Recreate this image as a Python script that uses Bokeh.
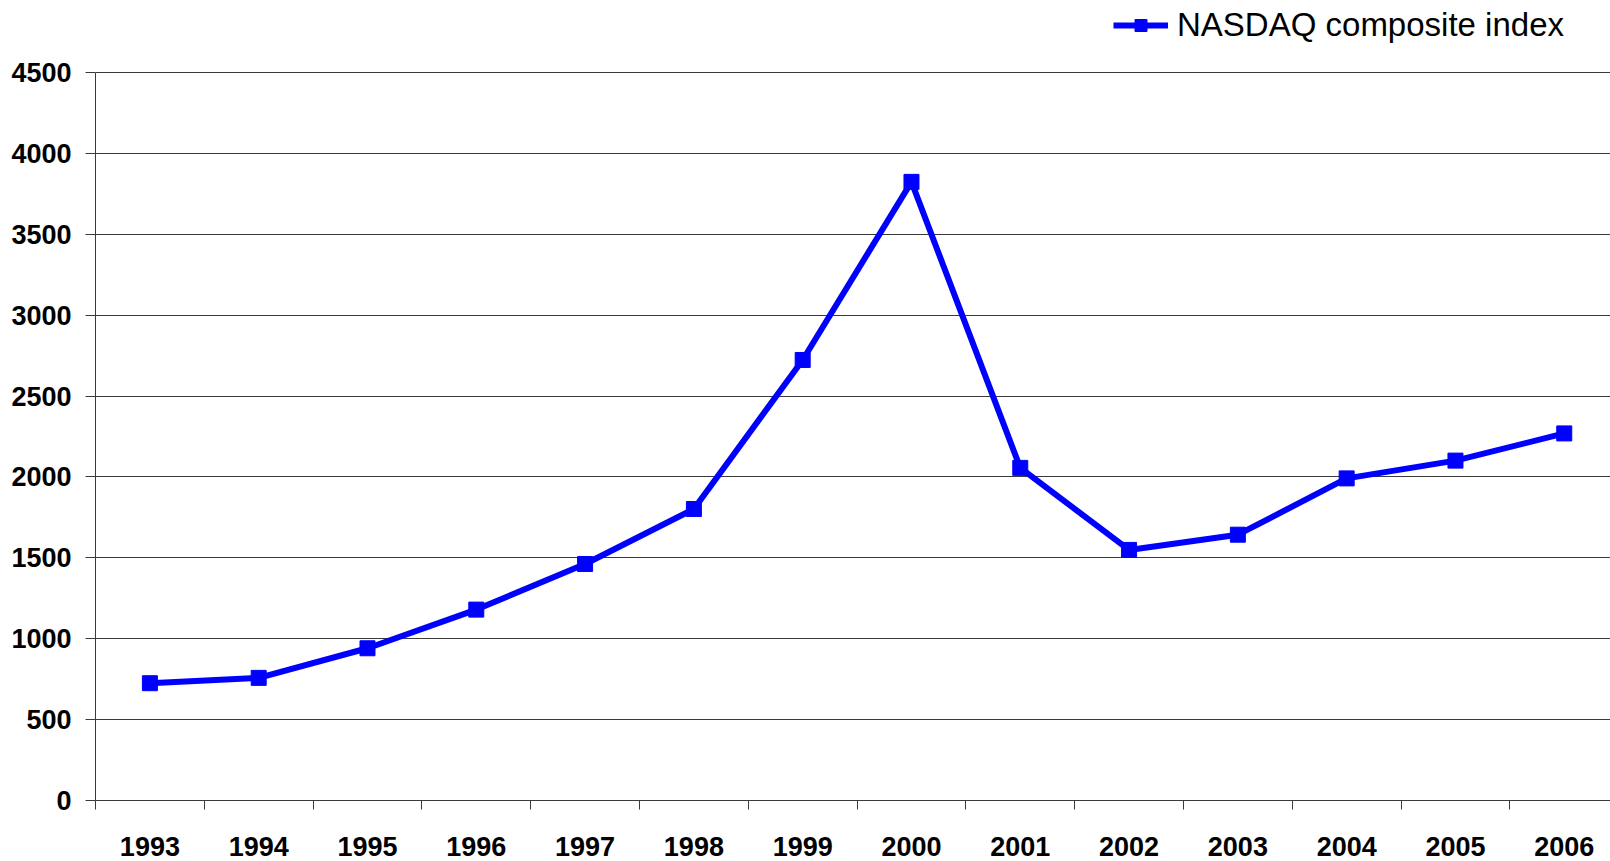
from bokeh.plotting import figure
from bokeh.models import Range1d, FixedTicker, Legend, LegendItem
from bokeh.embed import file_html
from bokeh.resources import INLINE

# ---- data ----
years = ["1993", "1994", "1995", "1996", "1997", "1998", "1999",
         "2000", "2001", "2002", "2003", "2004", "2005", "2006"]
nasdaq = [725, 758, 941, 1180, 1462, 1802, 2723,
          3824, 2056, 1549, 1643, 1991, 2101, 2269]
y_ticks = [0, 500, 1000, 1500, 2000, 2500, 3000, 3500, 4000, 4500]
series_name = "NASDAQ composite index"

xs = list(range(1, len(years) + 1))
centers = xs
bounds = [i + 0.5 for i in range(0, len(years) + 1)]

FONT = "Liberation Sans"
BLUE = "#0000FF"
GRID = "#3a3a3a"

# frame spans the whole height above the x axis; value axis stops at 4500,
# the space above it holds the legend
FRAME_H = 800
Y_TOP_PX = 72
y_end = y_ticks[-1] * FRAME_H / (FRAME_H - Y_TOP_PX)

p = figure(width=1610, height=861, output_backend="svg", toolbar_location=None,
           x_range=Range1d(0.5, 14.425), y_range=Range1d(0, y_end),
           min_border_left=95, min_border_right=0, min_border_top=0,
           min_border_bottom=61)
p.outline_line_color = None
p.background_fill_color = "white"
p.border_fill_color = "white"

line_r = p.line(xs, nasdaq, line_color=BLUE, line_width=6)
sq_r = p.scatter(xs, nasdaq, marker="square", size=15, fill_color=BLUE,
                 line_color=BLUE)

# grid
p.xgrid.grid_line_color = None
p.ygrid.grid_line_color = GRID
p.ygrid.grid_line_width = 1
p.ygrid.ticker = FixedTicker(ticks=y_ticks)

# y axis
ya = p.yaxis[0]
ya.ticker = FixedTicker(ticks=y_ticks)
ya.bounds = (y_ticks[0], y_ticks[-1])
ya.axis_line_color = GRID
ya.major_tick_line_color = GRID
ya.major_tick_out = 10
ya.major_tick_in = 0
ya.minor_tick_line_color = None
ya.major_label_text_font = FONT
ya.major_label_text_font_style = "bold"
ya.major_label_text_font_size = "27px"
ya.major_label_text_color = "black"
ya.major_label_standoff = 14

# x axis
xa = p.xaxis[0]
xa.ticker = FixedTicker(ticks=centers, minor_ticks=bounds)
xa.major_label_overrides = {c: y for c, y in zip(centers, years)}
xa.axis_line_color = GRID
xa.major_tick_line_color = None
xa.major_tick_out = 0
xa.major_tick_in = 0
xa.minor_tick_line_color = GRID
xa.minor_tick_out = 9
xa.minor_tick_in = 0
xa.major_label_text_font = FONT
xa.major_label_text_font_style = "bold"
xa.major_label_text_font_size = "27px"
xa.major_label_text_color = "black"
xa.major_label_standoff = 27

legend = Legend(items=[LegendItem(label=series_name, renderers=[line_r, sq_r])],
                location=(1018, 756), orientation="horizontal",
                padding=0, margin=0, spacing=0,
                glyph_width=55, glyph_height=30, label_standoff=9,
                label_text_font=FONT, label_text_font_size="33px",
                label_text_color="black",
                border_line_color=None, background_fill_alpha=0)
p.add_layout(legend, "center")

open("out.html", "w").write(file_html(p, INLINE))
